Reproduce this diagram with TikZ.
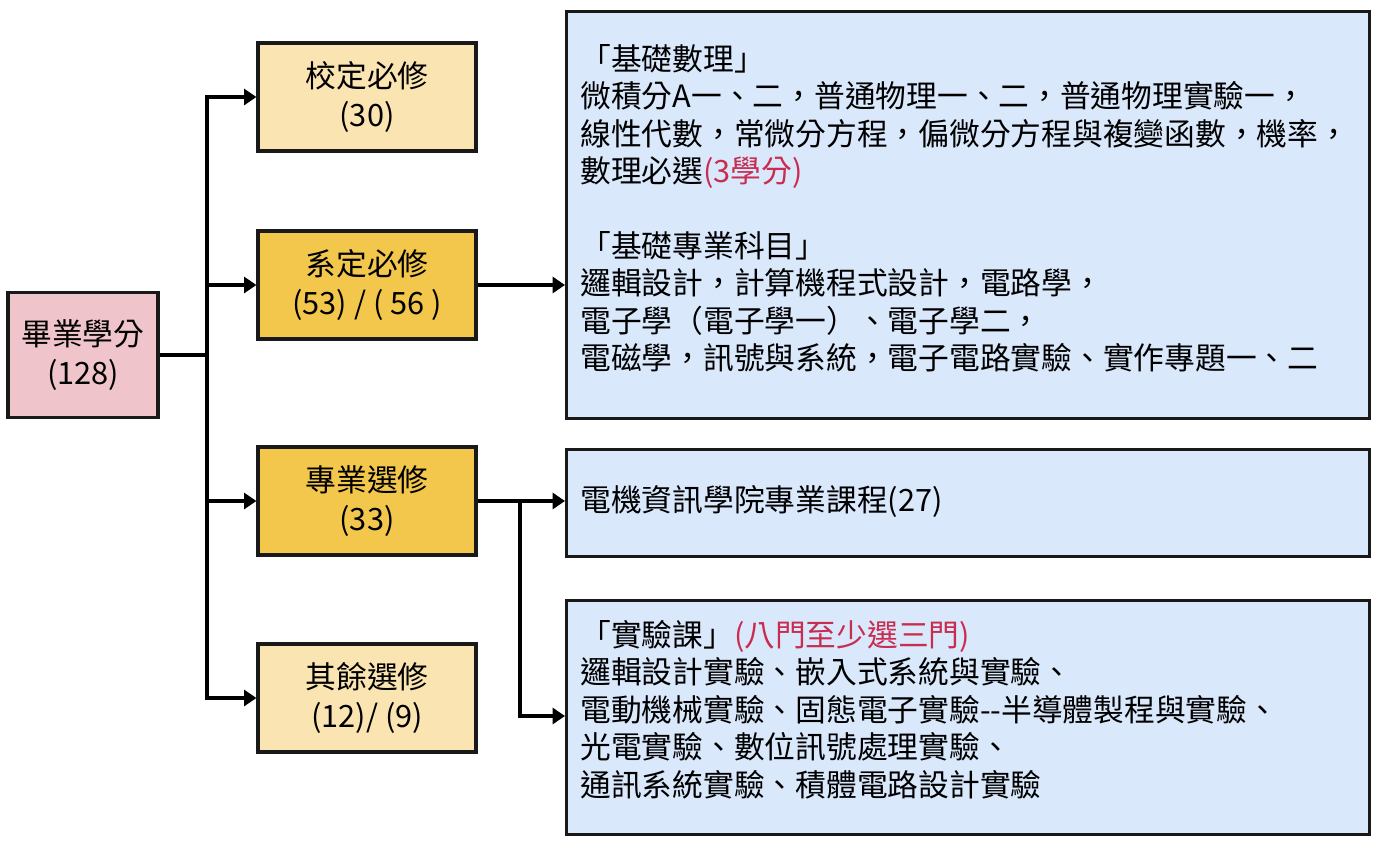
\documentclass[tikz,border=0pt]{standalone}
\usepackage{fontspec}
\setmainfont{Noto Sans CJK TC}
\usetikzlibrary{arrows.meta,positioning}
\definecolor{pinkbox}{RGB}{240,196,203}
\definecolor{lightgold}{RGB}{250,229,178}
\definecolor{gold}{RGB}{242,199,76}
\definecolor{paleblue}{RGB}{218,232,252}
\definecolor{hilite}{RGB}{200,45,80}
\tikzset{
  box/.style={draw=black!90, line width=1.8pt, align=center, font=\fontsize{17.5}{22.5}\selectfont},
  small/.style={box, minimum width=4.36cm, minimum height=2.16cm},
  panel/.style={box, minimum width=16.06cm, anchor=north west},
  body/.style={anchor=north west, align=left, inner sep=0pt, font=\fontsize{17.5}{21.3}\selectfont},
  link/.style={line width=2.4pt, -{Triangle[length=7pt,width=9pt]}},
  trunk/.style={line width=2.4pt}
}
\begin{document}
\begin{tikzpicture}[x=0.02cm,y=-0.02cm]
\useasboundingbox (0,0) rectangle (1379,842);
% left column
\node[box, fill=pinkbox, minimum width=3cm, minimum height=2.5cm] (total) at (83,355) {畢業學分\\(128)};
\node[small, fill=lightgold] (school) at (367,97) {校定必修\\(30)};
\node[small, fill=gold] (dept) at (367,285) {系定必修\\(53) / ( 56 )};
\node[small, fill=gold] (major) at (367,501) {專業選修\\(33)};
\node[small, fill=lightgold] (other) at (367,698) {其餘選修\\(12)/ (9)};
% right panels
\node[panel, fill=paleblue, minimum height=8.14cm] (basic) at (565,10) {};
\node[panel, fill=paleblue, minimum height=2.14cm] (college) at (565,448) {};
\node[panel, fill=paleblue, minimum height=4.68cm] (lab) at (565,599) {};
\node[body] (basictext) at (580,44) {「基礎數理」\\
微積分A一、二，普通物理一、二，普通物理實驗一，\\
線性代數，常微分方程，偏微分方程與複變函數，機率，\\
數理必選{\color{hilite}(3學分)}\\[21.3pt]
「基礎專業科目」\\
邏輯設計，計算機程式設計，電路學，\\
電子學（電子學一）、電子學二，\\
電磁學，訊號與系統，電子電路實驗、實作專題一、二};
\node[body, anchor=west] (collegetext) at (580,501) {電機資訊學院專業課程(27)};
\node[body] (labtext) at (580,620) {「實驗課」{\color{hilite}(八門至少選三門)}\\
邏輯設計實驗、嵌入式系統與實驗、\\
電動機械實驗、固態電子實驗-{}-半導體製程與實驗、\\
光電實驗、數位訊號處理實驗、\\
通訊系統實驗、積體電路設計實驗};
% connectors
\coordinate (split) at (207,355);
\coordinate (fork) at (520,501);
\draw[trunk] (total.east) -- (split);
\draw[link] (split) |- (school.west);
\draw[link] (split) |- (dept.west);
\draw[link] (split) |- (major.west);
\draw[link] (split) |- (other.west);
\draw[link] (dept.east) -- (dept.east -| basic.west);
\draw[link] (major.east) -- (college.west |- major.east);
\draw[link] (fork) |- (lab.west |- 0,716);
\end{tikzpicture}
\end{document}
